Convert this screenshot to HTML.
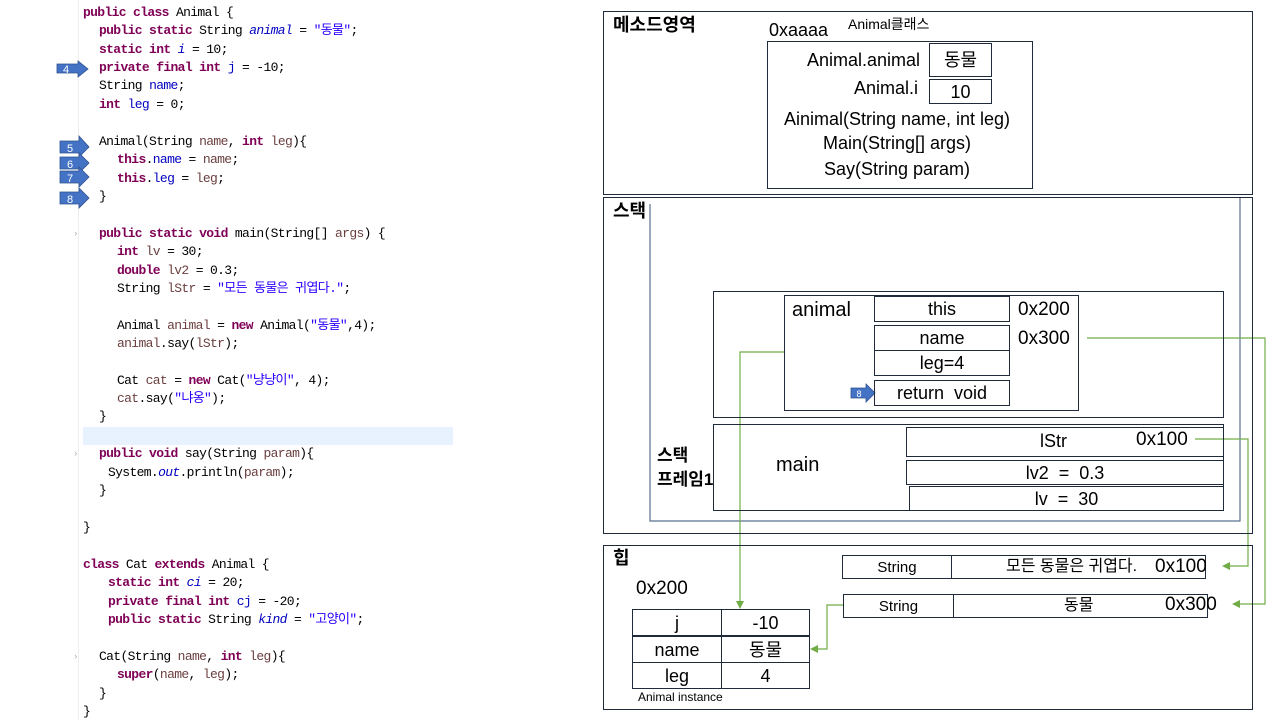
<!DOCTYPE html>
<html><head><meta charset="utf-8">
<style>
*{margin:0;padding:0;box-sizing:border-box}
body{width:1280px;height:720px;background:#fff;position:relative;overflow:hidden;font-family:"Liberation Sans","Noto Sans CJK KR",sans-serif;color:#000}
.c{position:absolute;font-family:"Liberation Mono","Noto Sans CJK KR",monospace;font-size:13px;line-height:18px;white-space:pre;letter-spacing:-0.65px;color:#000}
.k{color:#7F0055;font-weight:bold}
.f{color:#0000C0}
.fi{color:#0000C0;font-style:italic}
.s{color:#2A00FF}
.v{color:#6A3E3E}
.b{position:absolute;border:1px solid #1f2a3a}
.t{position:absolute;white-space:nowrap;line-height:1}
.cell{position:absolute;border:1px solid #1f2a3a;display:flex;align-items:center;justify-content:center;font-size:18px;line-height:1;white-space:nowrap}
.h{font-weight:bold;font-size:18px}
</style></head><body>
<div style="position:absolute;left:83px;top:427px;width:370px;height:18px;background:#E8F2FE"></div>
<div style="position:absolute;left:78px;top:0;width:1px;height:720px;background:#eee"></div>

<div class="c" style="left:83px;top:4px"><span class="k">public class</span> Animal {</div>
<div class="c" style="left:99px;top:22px"><span class="k">public static</span> String <span class="fi">animal</span> = <span class="s">"동물"</span>;</div>
<div class="c" style="left:99px;top:41px"><span class="k">static int</span> <span class="fi">i</span> = 10;</div>
<div class="c" style="left:99px;top:59px"><span class="k">private final int</span> <span class="f">j</span> = -10;</div>
<div class="c" style="left:99px;top:77px">String <span class="f">name</span>;</div>
<div class="c" style="left:99px;top:96px"><span class="k">int</span> <span class="f">leg</span> = 0;</div>
<div class="c" style="left:99px;top:133px">Animal(String <span class="v">name</span>, <span class="k">int</span> <span class="v">leg</span>){</div>
<div class="c" style="left:117px;top:151px"><span class="k">this</span>.<span class="f">name</span> = <span class="v">name</span>;</div>
<div class="c" style="left:117px;top:170px"><span class="k">this</span>.<span class="f">leg</span> = <span class="v">leg</span>;</div>
<div class="c" style="left:99px;top:188px">}</div>
<div class="c" style="left:99px;top:225px"><span class="k">public static void</span> main(String[] <span class="v">args</span>) {</div>
<div class="c" style="left:117px;top:243px"><span class="k">int</span> <span class="v">lv</span> = 30;</div>
<div class="c" style="left:117px;top:262px"><span class="k">double</span> <span class="v">lv2</span> = 0.3;</div>
<div class="c" style="left:117px;top:280px">String <span class="v">lStr</span> = <span class="s">"모든 동물은 귀엽다."</span>;</div>
<div class="c" style="left:117px;top:317px">Animal <span class="v">animal</span> = <span class="k">new</span> Animal(<span class="s">"동물"</span>,4);</div>
<div class="c" style="left:117px;top:335px"><span class="v">animal</span>.say(<span class="v">lStr</span>);</div>
<div class="c" style="left:117px;top:372px">Cat <span class="v">cat</span> = <span class="k">new</span> Cat(<span class="s">"냥냥이"</span>, 4);</div>
<div class="c" style="left:117px;top:390px"><span class="v">cat</span>.say(<span class="s">"냐옹"</span>);</div>
<div class="c" style="left:99px;top:408px">}</div>
<div class="c" style="left:99px;top:445px"><span class="k">public void</span> say(String <span class="v">param</span>){</div>
<div class="c" style="left:108px;top:464px">System.<span class="fi">out</span>.println(<span class="v">param</span>);</div>
<div class="c" style="left:99px;top:482px">}</div>
<div class="c" style="left:83px;top:519px">}</div>
<div class="c" style="left:83px;top:556px"><span class="k">class</span> Cat <span class="k">extends</span> Animal {</div>
<div class="c" style="left:108px;top:574px"><span class="k">static int</span> <span class="fi">ci</span> = 20;</div>
<div class="c" style="left:108px;top:593px"><span class="k">private final int</span> <span class="f">cj</span> = -20;</div>
<div class="c" style="left:108px;top:611px"><span class="k">public static</span> String <span class="fi">kind</span> = <span class="s">"고양이"</span>;</div>
<div class="c" style="left:99px;top:648px">Cat(String <span class="v">name</span>, <span class="k">int</span> <span class="v">leg</span>){</div>
<div class="c" style="left:117px;top:666px"><span class="k">super</span>(<span class="v">name</span>, <span class="v">leg</span>);</div>
<div class="c" style="left:99px;top:685px">}</div>
<div class="c" style="left:83px;top:703px">}</div>
<div class="c" style="left:73px;top:225px;color:#aaa;font-size:9px">›</div>
<div class="c" style="left:73px;top:445px;color:#aaa;font-size:9px">›</div>
<div class="c" style="left:73px;top:648px;color:#aaa;font-size:9px">›</div>

<svg width="1280" height="720" style="position:absolute;left:0;top:0" xmlns="http://www.w3.org/2000/svg">
<g fill="#4472C4" stroke="#2F528F" stroke-width="0.8">
<polygon points="57,64 78,64 78,61 88,69 78,77 78,73 57,73"/>
<polygon points="60,141 79,141 79,136 89,147 79,157 79,153 60,153"/>
<polygon points="60,157 79,157 79,153 89,163 79,173 79,169 60,169"/>
<polygon points="60,171 79,171 79,167 89,177 79,187 79,183 60,183"/>
<polygon points="60,192 79,192 79,188 89,198 79,208 79,204 60,204"/>
<polygon points="851,388 866,388 866,384 875,393 866,402 866,398 851,398"/>
</g>
<g fill="#fff" font-family="Liberation Sans" font-size="11" text-anchor="middle">
<text x="66" y="73">4</text><text x="70" y="152">5</text><text x="70" y="168">6</text><text x="70" y="182">7</text><text x="70" y="203">8</text>
<text x="859" y="397" font-size="9">8</text>
</g>
<g fill="none" stroke="#5a7090" stroke-width="1.2">
<polyline points="650,204 650,521 1240,521 1240,198"/>
</g>
<g fill="none" stroke="#70AD47" stroke-width="1.2">
<polyline points="784,352 740,352 740,603"/>
<polyline points="1087,338 1265,338 1265,604 1238,604"/>
<polyline points="1195,439 1248,439 1248,566 1228,566"/>
<polyline points="843,605 827,605 827,649 816,649"/>
</g>
<g fill="#70AD47">
<polygon points="736,601 744,601 740,609"/>
<polygon points="1240,600 1240,608 1232,604"/>
<polygon points="1230,562 1230,570 1222,566"/>
<polygon points="818,645 818,653 810,649"/>
</g>
</svg>

<!-- method area -->
<div class="b" style="left:603px;top:11px;width:650px;height:184px"></div>
<div class="t h" style="left:613px;top:16px">메소드영역</div>
<div class="t" style="left:769px;top:21px;font-size:18px">0xaaaa</div>
<div class="t" style="left:848px;top:17px;font-size:14px">Animal클래스</div>
<div class="b" style="left:767px;top:41px;width:266px;height:148px"></div>
<div class="t" style="left:760px;top:51px;width:160px;text-align:right;font-size:18px">Animal.animal</div>
<div class="cell" style="left:929px;top:43px;width:63px;height:34px">동물</div>
<div class="t" style="left:760px;top:79px;width:158px;text-align:right;font-size:18px">Animal.i</div>
<div class="cell" style="left:929px;top:79px;width:63px;height:25px">10</div>
<div class="t" style="left:767px;top:110px;width:260px;text-align:center;font-size:18px">Ainimal(String name, int leg)</div>
<div class="t" style="left:767px;top:134px;width:260px;text-align:center;font-size:18px">Main(String[] args)</div>
<div class="t" style="left:767px;top:160px;width:260px;text-align:center;font-size:18px">Say(String param)</div>

<!-- stack -->
<div class="b" style="left:603px;top:197px;width:650px;height:337px"></div>
<div class="t h" style="left:613px;top:202px">스택</div>
<div class="b" style="left:713px;top:291px;width:511px;height:127px"></div>
<div class="b" style="left:784px;top:295px;width:295px;height:116px"></div>
<div class="t" style="left:792px;top:300px;font-size:20px">animal</div>
<div class="cell" style="left:874px;top:296px;width:136px;height:26px">this</div>
<div class="cell" style="left:874px;top:325px;width:136px;height:26px">name</div>
<div class="cell" style="left:874px;top:350px;width:136px;height:26px">leg=4</div>
<div class="cell" style="left:874px;top:380px;width:136px;height:26px">return&nbsp;&nbsp;void</div>
<div class="t" style="left:1018px;top:300px;font-size:19px">0x200</div>
<div class="t" style="left:1018px;top:329px;font-size:19px">0x300</div>
<div class="b" style="left:713px;top:424px;width:511px;height:87px"></div>
<div class="t" style="left:776px;top:455px;font-size:20px">main</div>
<div class="t h" style="left:657px;top:444px;line-height:24px;font-size:17px">스택<br>프레임1</div>
<div class="b" style="left:906px;top:427px;width:318px;height:30px"></div>
<div class="t" style="left:1040px;top:432px;font-size:18px">lStr</div>
<div class="t" style="left:1136px;top:430px;font-size:19px">0x100</div>
<div class="cell" style="left:906px;top:460px;width:318px;height:25px">lv2&nbsp;&nbsp;=&nbsp;&nbsp;0.3</div>
<div class="cell" style="left:909px;top:486px;width:315px;height:25px">lv&nbsp;&nbsp;=&nbsp;&nbsp;30</div>

<!-- heap -->
<div class="b" style="left:603px;top:545px;width:650px;height:165px"></div>
<div class="t h" style="left:613px;top:549px">힙</div>
<div class="t" style="left:636px;top:579px;font-size:19px">0x200</div>
<div class="cell" style="left:632px;top:609px;width:90px;height:27px">j</div>
<div class="cell" style="left:721px;top:609px;width:89px;height:27px">-10</div>
<div class="cell" style="left:632px;top:636px;width:90px;height:27px">name</div>
<div class="cell" style="left:721px;top:636px;width:89px;height:27px">동물</div>
<div class="cell" style="left:632px;top:662px;width:90px;height:27px">leg</div>
<div class="cell" style="left:721px;top:662px;width:89px;height:27px">4</div>
<div class="t" style="left:638px;top:691px;font-size:12px">Animal instance</div>
<div class="cell" style="left:842px;top:555px;width:110px;height:24px;font-size:15px">String</div>
<div class="b" style="left:951px;top:555px;width:255px;height:24px"></div>
<div class="t" style="left:1006px;top:559px;font-size:16px">모든 동물은 귀엽다.</div>
<div class="t" style="left:1155px;top:557px;font-size:19px">0x100</div>
<div class="cell" style="left:843px;top:594px;width:111px;height:24px;font-size:15px">String</div>
<div class="b" style="left:953px;top:594px;width:255px;height:24px"></div>
<div class="t" style="left:1064px;top:598px;font-size:16px">동물</div>
<div class="t" style="left:1165px;top:595px;font-size:19px">0x300</div>
</body></html>
